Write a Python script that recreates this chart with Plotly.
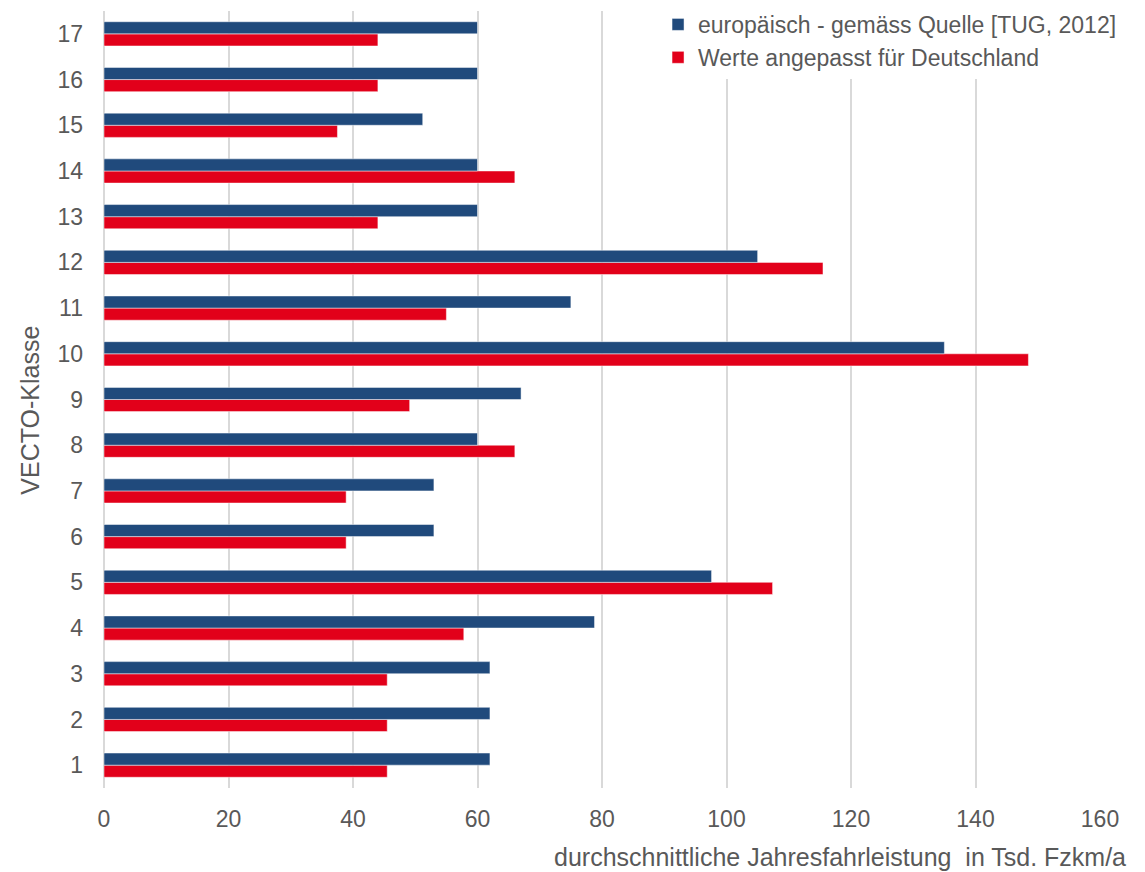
import plotly.graph_objects as go

# VECTO vehicle classes and average annual mileage (thousand vehicle-km per year)
classes = [str(i) for i in range(1, 18)]
europe_tug_2012 = [62, 62, 62, 78.8, 97.6, 53, 53, 60, 67, 135, 75, 105, 60, 60, 51.2, 60, 60]
germany_adjusted = [45.5, 45.5, 45.5, 57.8, 107.4, 38.9, 38.9, 66, 49.1, 148.5, 55, 115.5, 44, 66, 37.5, 44, 44]
x_ticks = [0, 20, 40, 60, 80, 100, 120, 140, 160]

BLUE = "#204a7c"
RED = "#e2001a"
TEXT = "#595959"
FONT = "Arial"

fig = go.Figure()
# red trace first so the blue bar sits above it within each class
fig.add_trace(go.Bar(
    y=classes, x=germany_adjusted, orientation="h",
    name="Werte angepasst für Deutschland",
    marker=dict(color=RED, line=dict(color="rgba(255,255,255,0.6)", width=0.8)),
))
fig.add_trace(go.Bar(
    y=classes, x=europe_tug_2012, orientation="h",
    name="europäisch - gemäss Quelle [TUG, 2012]",
    marker=dict(color=BLUE, line=dict(color="rgba(255,255,255,0.6)", width=0.8)),
))

fig.update_layout(
    width=1145, height=872,
    margin=dict(l=104, r=45, t=11, b=84, autoexpand=False),
    paper_bgcolor="white", plot_bgcolor="white",
    barmode="group", bargap=0.47, bargroupgap=0,
    font=dict(family=FONT, size=23, color=TEXT),
    showlegend=True,
    legend=dict(
        xref="container", yref="container",
        x=0.5747, y=0.9966, xanchor="left", yanchor="top",
        traceorder="reversed", bgcolor="white",
        font=dict(family=FONT, size=23, color=TEXT),
        itemwidth=30, tracegroupgap=0,
    ),
    xaxis=dict(
        range=[0, 160], tickvals=x_ticks, automargin=False,
        showgrid=True, gridcolor="#d9d9d9", gridwidth=1.5,
        zeroline=True, zerolinecolor="#d9d9d9", zerolinewidth=1.5,
        showline=False, ticks="", ticklabelstandoff=15,
        tickfont=dict(family=FONT, size=23, color=TEXT),
    ),
    yaxis=dict(
        categoryorder="array", categoryarray=classes, automargin=False,
        showgrid=False, zeroline=False, showline=False,
        ticks="", ticklabelstandoff=20,
        tickfont=dict(family=FONT, size=23, color=TEXT),
    ),
    annotations=[
        dict(text="durchschnittliche Jahresfahrleistung  in Tsd. Fzkm/a",
             xref="paper", yref="paper", x=1.028, y=-0.089,
             xanchor="right", yanchor="middle", showarrow=False,
             font=dict(family=FONT, size=25, color=TEXT)),
        dict(text="VECTO-Klasse",
             xref="paper", yref="paper", x=-0.074, y=0.486,
             xanchor="center", yanchor="middle", showarrow=False,
             textangle=-90, font=dict(family=FONT, size=25, color=TEXT)),
    ],
)

fig.write_html("out.html")
